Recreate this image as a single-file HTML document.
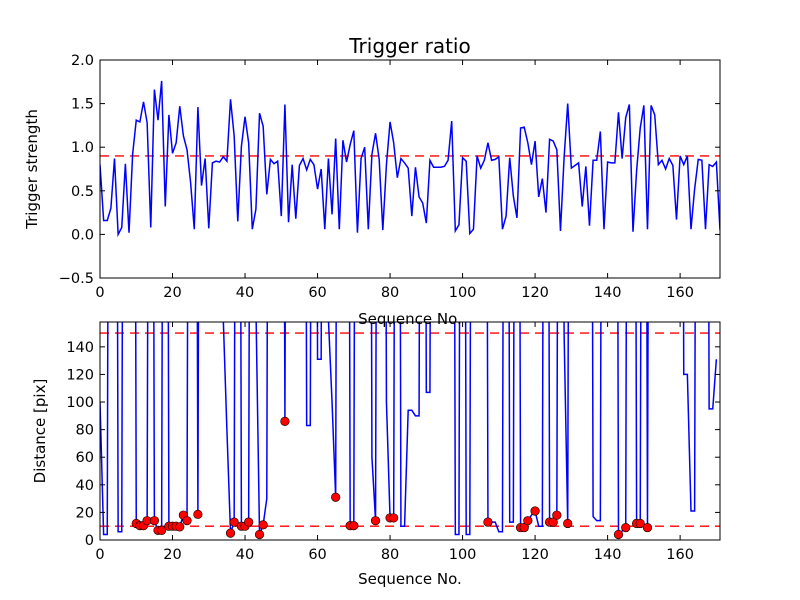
<!DOCTYPE html>
<html><head><meta charset="utf-8"><style>
body{margin:0;background:#fff}
svg{display:block;font-family:"DejaVu Sans","Liberation Sans",sans-serif}
</style></head><body>
<svg id="chart" width="800" height="600" viewBox="0 0 800 600">
<rect width="800" height="600" fill="#fff"/>
<defs>
<clipPath id="c1"><rect x="100" y="60" width="620" height="218"/></clipPath>
<clipPath id="c2"><rect x="100" y="322" width="620" height="218"/></clipPath>
</defs>
<g id="g"></g>
</svg>
<script>
const strength = [0.80,0.16,0.16,0.30,0.87,0.00,0.08,0.81,0.02,0.92,1.31,1.29,1.52,1.28,0.08,1.66,1.31,1.76,0.32,1.37,0.93,1.05,1.47,1.13,0.97,0.59,0.06,1.46,0.56,0.87,0.07,0.82,0.84,0.83,0.89,0.84,1.55,1.13,0.15,1.01,1.35,1.05,0.06,0.29,1.39,1.24,0.46,0.86,0.81,0.84,0.21,1.49,0.14,0.80,0.18,0.79,0.87,0.74,0.86,0.80,0.52,0.75,0.06,0.87,0.23,1.10,0.06,1.08,0.83,1.03,1.19,0.02,0.87,1.00,0.06,0.92,1.16,0.86,0.05,0.80,1.29,1.05,0.65,0.87,0.82,0.76,0.21,0.77,0.43,0.36,0.13,0.85,0.77,0.77,0.77,0.78,0.85,1.30,0.04,0.11,0.88,0.84,0.01,0.06,0.90,0.76,0.85,1.05,0.85,0.86,0.89,0.06,0.21,0.88,0.44,0.19,1.22,1.23,1.05,0.80,1.07,0.43,0.64,0.25,1.09,1.07,0.97,0.04,0.88,1.50,0.76,0.79,0.82,0.32,0.78,0.10,0.85,0.85,1.18,0.06,0.83,0.82,0.82,1.40,0.87,1.34,1.49,0.03,0.73,1.22,1.48,0.06,1.48,1.37,0.80,0.85,0.75,0.87,0.79,0.17,0.90,0.80,0.90,0.06,0.52,0.86,0.85,0.06,0.80,0.78,0.83,0.05];
const H = 1000;
const distance = [100,4,4,H,H,6,6,H,H,H,12,10.4,10.4,14,H,14,7,7,H,10,10,10,9.5,18,14,H,H,18.6,H,H,H,H,H,H,160,80,5,13,H,10,10,13,H,170,4,11,30,H,H,H,H,86,H,H,H,H,H,83,83,H,131,131,H,160,100,31,H,H,H,10.4,10.4,H,H,H,H,60,14,H,H,100,16,16,H,10,10,94,94,90,90,H,107,107,H,H,H,H,H,H,4,4,H,4,4,H,H,H,H,13,13,13,6,6,H,13,13,H,9,9,14,18,21,10,10,H,13,13,18,H,150,12,H,H,H,H,H,H,17,14,14,H,H,H,H,4,6.5,9,H,H,12,12,H,9,H,H,H,H,H,H,H,H,H,120,120,21,21,H,H,H,95,95,131];
const dotIdx = [10,11,12,13,15,16,17,19,20,21,22,23,24,27,36,37,39,40,41,44,45,51,65,69,70,76,80,81,107,116,117,118,120,124,125,126,129,143,145,148,149,151];
const dotVal = [12,10.4,10.4,14,14,7,7,10,10,10,9.5,18,14,18.6,5,13,10,10,13,4,11,86,31,10.4,10.4,14,16,16,13,9,9,14,21,13,13,18,12,4,9,12,12,9];
const xTicks = [0,20,40,60,80,100,120,140,160];
const yTicksTop = [-0.5,0.0,0.5,1.0,1.5,2.0];
const yTicksBot = [0,20,40,60,80,100,120,140];
const strengthThreshold = 0.9;
const distThresholds = [150,10];

const NS='http://www.w3.org/2000/svg', g=document.getElementById('g');
function el(t,a,p){const e=document.createElementNS(NS,t);for(const k in a)e.setAttribute(k,a[k]);(p||g).appendChild(e);return e;}
const X0=100,X1=720,XMAX=171;
const xs=v=>X0+v/XMAX*(X1-X0);
const ysT=v=>278-(v+0.5)/2.5*218;
const ysB=v=>540-v/158*218;
const fmt1=v=>(v<0?'\u2212':'')+Math.abs(v).toFixed(1);

function axes(top,bot,yTicks,ys,fmt,name){
  const fr=el('rect',{x:X0,y:top,width:X1-X0,height:bot-top,fill:'none',stroke:'#000','stroke-width':1});
  
  
  xTicks.forEach(t=>{const x=xs(t);
    el('line',{x1:x,x2:x,y1:bot,y2:bot-5,stroke:'#000'});
    el('line',{x1:x,x2:x,y1:top,y2:top+5,stroke:'#000'});
    const tx=el('text',{x:x,y:bot+19,'font-size':14.5,'text-anchor':'middle'});tx.textContent=t;
    
    
  });
  yTicks.forEach(t=>{const y=ys(t);
    el('line',{x1:X0,x2:X0+5,y1:y,y2:y,stroke:'#000'});
    el('line',{x1:X1,x2:X1-5,y1:y,y2:y,stroke:'#000'});
    const ty=el('text',{x:X0-6,y:y+5,'font-size':14.5,'text-anchor':'end'});ty.textContent=fmt(t);
    
    
  });
}
const h1=el('line',{x1:X0,x2:X1,y1:ysT(strengthThreshold),y2:ysT(strengthThreshold),stroke:'#f00','stroke-width':1.3,'stroke-dasharray':'9 6'});


const p1=el('polyline',{points:strength.map((v,i)=>xs(i)+','+ysT(v)).join(' '),fill:'none',stroke:'#00f','stroke-width':1.5,'clip-path':'url(#c1)'});


axes(60,278,yTicksTop,ysT,fmt1,'top');
distThresholds.forEach(d=>{const l=el('line',{x1:X0,x2:X1,y1:ysB(d),y2:ysB(d),stroke:'#f00','stroke-width':1.3,'stroke-dasharray':'9 6'});
  
  });
const p2=el('polyline',{points:distance.map((v,i)=>xs(i)+','+ysB(v)).join(' '),fill:'none',stroke:'#00f','stroke-width':1.5,'clip-path':'url(#c2)'});


dotIdx.forEach((ix,k)=>{const c=el('circle',{cx:xs(ix),cy:ysB(dotVal[k]),r:4.3,fill:'#f00',stroke:'#000','stroke-width':0.6});
  
  });
axes(322,540,yTicksBot,ysB,v=>String(v),'bottom');
function lab(txt,x,y,size,rot,name){const t=el('text',{x:x,y:y,'font-size':size,'text-anchor':'middle'});
  if(rot)t.setAttribute('transform','rotate(-90 '+x+' '+y+')');t.textContent=txt;
  
  }
lab('Trigger ratio',410,53,20,false,'chart-title');
lab('Trigger strength',37,169,15,true,'top-y-axis-title');
lab('Sequence No.',410,324,15,false,'top-x-axis-title');
lab('Distance [pix]',45,431,15,true,'bottom-y-axis-title');
lab('Sequence No.',410,584,15,false,'bottom-x-axis-title');
</script>
</body></html>
